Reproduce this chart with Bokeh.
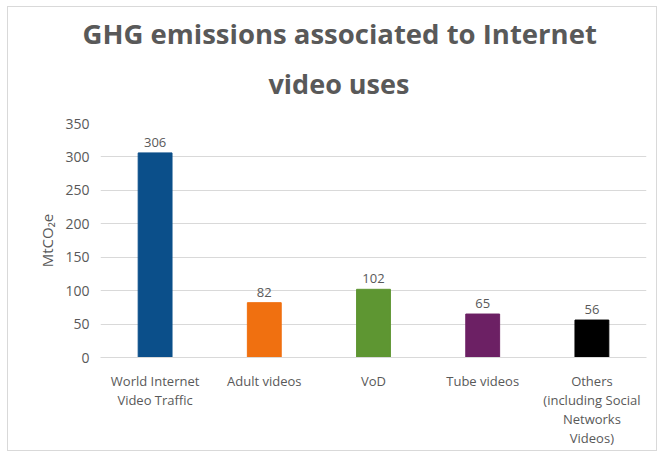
from bokeh.plotting import figure
from bokeh.models import ColumnDataSource, Range1d, FixedTicker, CategoricalAxis, Title, FactorRange
from bokeh.core.properties import value
from bokeh.embed import file_html
from bokeh.resources import INLINE

# category labels, one list per text line (blank entries padded with spaces to stay unique)
categories = ["World Internet", "Adult videos", "VoD", "Tube videos", "Others"]
tick_line2 = ["Video Traffic", " ", "  ", "   ", "(including Social"]
tick_line3 = [" ", "  ", "   ", "    ", "Networks"]
tick_line4 = [" ", "  ", "   ", "    ", "Videos)"]
values = [306, 82, 102, 65, 56]
colors = ["#0b4f8a", "#f07010", "#5e9632", "#6c2064", "#000000"]
y_ticks = [0, 50, 100, 150, 200, 250, 300, 350]
title_lines = ["GHG emissions associated to Internet", "video uses"]

FONT = "Open Sans"
GREY = "#595959"

W, H = 650, 445
src = ColumnDataSource(dict(cat=categories, val=values, color=colors,
                            lab=[str(v) for v in values]))

p = figure(x_range=FactorRange(factors=categories), y_range=Range1d(0, 350), width=W, height=H,
           output_backend="svg", toolbar_location=None,
           min_border_left=92, min_border_right=12, min_border_top=116, min_border_bottom=95)
p.styles = {"border": "1px solid #d9d9d9", "margin-left": "7px", "margin-top": "6px"}
p.outline_line_color = None
p.extra_x_ranges = {"l2": FactorRange(factors=tick_line2),
                    "l3": FactorRange(factors=tick_line3),
                    "l4": FactorRange(factors=tick_line4)}

p.vbar(x="cat", top="val", width=0.31, color="color", source=src)
p.text(x="cat", y="val", text="lab", source=src, text_align="center", text_baseline="bottom",
       y_offset=-6, text_font=value(FONT), text_font_size="13px", text_color=GREY)

p.xgrid.grid_line_color = None
p.ygrid.grid_line_color = "#d9d9d9"
p.yaxis.ticker = FixedTicker(ticks=y_ticks)
p.yaxis.axis_line_color = None
p.yaxis.major_tick_line_color = None
p.yaxis.minor_tick_line_color = None
p.yaxis.major_label_text_font = FONT
p.yaxis.major_label_text_font_size = "14px"
p.yaxis.major_label_text_color = GREY
p.yaxis.axis_label = "MtCO₂e"
p.yaxis.axis_label_text_font = FONT
p.yaxis.axis_label_text_font_style = "normal"
p.yaxis.axis_label_text_font_size = "15px"
p.yaxis.axis_label_text_color = GREY


def style_xaxis(ax, standoff):
    ax.major_tick_line_color = None
    ax.major_tick_out = 0
    ax.major_tick_in = 0
    ax.major_label_text_font = FONT
    ax.major_label_text_font_size = "13px"
    ax.major_label_text_color = GREY
    ax.major_label_standoff = standoff


xa = p.xaxis[0]
xa.axis_line_color = "#d9d9d9"
style_xaxis(xa, 14)
for name in ["l2", "l3", "l4"]:
    extra = CategoricalAxis(x_range_name=name, axis_line_color=None)
    style_xaxis(extra, -2)
    p.add_layout(extra, "below")

p.add_layout(Title(text=title_lines[1], align="left", offset=168, text_font=FONT,
                   text_font_size="27px", text_font_style="bold", text_color=GREY,
                   standoff=44), "above")
p.add_layout(Title(text=title_lines[0], align="left", offset=-18, text_font=FONT,
                   text_font_size="27.5px", text_font_style="bold", text_color=GREY,
                   standoff=-23), "above")

open("out.html", "w").write(file_html(p, INLINE))
